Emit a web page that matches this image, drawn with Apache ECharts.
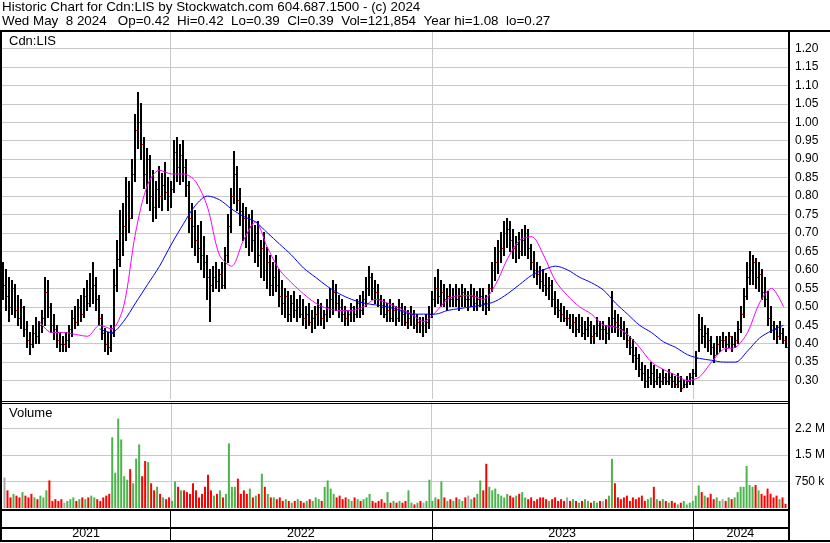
<!DOCTYPE html>
<html><head><meta charset="utf-8">
<script src="https://cdn.jsdelivr.net/npm/echarts@6/dist/echarts.min.js"></script>
<style>html,body{margin:0;padding:0;background:#fff}#c{width:830px;height:543px}</style>
</head><body><div id="c"></div>
<script>
const TITLE_LINE1 = 'Historic Chart for Cdn:LIS by Stockwatch.com 604.687.1500 - (c) 2024';
const TITLE_LINE2 = 'Wed May  8 2024   Op=0.42  Hi=0.42  Lo=0.39  Cl=0.39  Vol=121,854  Year hi=1.08  lo=0.27';
const SYMBOL = 'Cdn:LIS';
const VOLUME_TITLE = 'Volume';
const AXIS_START = '2021-05-11';
const AXIS_END = '2024-05-13';
const YEARS = ['2021', '2022', '2023', '2024'];
const YEAR_STARTS = ['2022-01-01', '2023-01-01', '2024-01-01'];
const PRICE_MIN = 0.25, PRICE_MAX = 1.25, PRICE_STEP = 0.05;
const PRICE_LABEL_RANGE = [0.30, 1.20];
const VOL_MAX = 3, VOL_STEP = 0.75;
const VOL_TICK_LABELS = {'0.75': '750 k', '1.5': '1.5 M', '2.25': '2.2 M'};
const MA_EVERY = 4;

// price samples (each ~3 trading days)
const hi = [
.62,.60,.58,.57,.56,.53,.52,.50,.46,.43,
.45,.47,.46,.49,.58,.57,.51,.48,.45,.43,
.42,.43,.45,.49,.50,.52,.53,.55,.57,.59,
.62,.58,.53,.48,.44,.43,.45,.60,.68,.76,
.78,.85,.84,.90,1.02,1.08,1.05,.96,.93,.91,
.87,.84,.88,.86,.89,.85,.84,.95,.96,.94,
.95,.90,.84,.78,.76,.72,.73,.69,.64,.60,
.61,.62,.60,.62,.66,.75,.82,.92,.88,.82,
.78,.77,.75,.76,.72,.73,.68,.70,.66,.64,
.62,.64,.60,.57,.55,.54,.53,.54,.52,.53,
.52,.50,.51,.49,.50,.52,.51,.49,.52,.55,
.57,.56,.53,.52,.50,.49,.51,.50,.52,.53,
.54,.58,.61,.59,.57,.56,.53,.52,.51,.52,
.51,.50,.52,.51,.50,.49,.50,.49,.48,.47,
.47,.48,.50,.54,.58,.60,.57,.56,.55,.56,
.55,.56,.55,.56,.55,.54,.56,.55,.54,.55,
.55,.53,.56,.62,.66,.68,.70,.73,.74,.73,
.71,.69,.70,.71,.72,.71,.67,.65,.62,.61,
.60,.59,.58,.57,.54,.52,.51,.50,.49,.48,
.48,.47,.48,.47,.46,.47,.46,.45,.47,.46,
.46,.45,.47,.54,.49,.48,.47,.46,.44,.42,
.41,.39,.37,.35,.34,.33,.35,.34,.33,.32,
.33,.32,.33,.32,.31,.32,.31,.30,.31,.32,
.33,.38,.48,.47,.45,.44,.42,.40,.42,.42,
.43,.42,.43,.42,.43,.46,.50,.55,.62,.65,
.64,.63,.62,.60,.58,.54,.50,.46,.45,.46,.44,.42];
const lo = [
.52,.49,.46,.48,.47,.45,.44,.42,.39,.37,
.39,.40,.40,.43,.45,.47,.43,.41,.39,.38,
.38,.38,.39,.42,.44,.45,.46,.47,.49,.50,
.51,.49,.45,.41,.38,.37,.38,.42,.54,.61,
.64,.68,.70,.74,.84,.93,.90,.82,.78,.76,
.73,.74,.77,.76,.79,.76,.77,.81,.84,.83,
.84,.80,.70,.66,.64,.62,.60,.58,.52,.46,
.54,.55,.54,.55,.55,.62,.70,.78,.76,.72,
.68,.66,.64,.65,.62,.61,.58,.57,.55,.53,
.53,.54,.50,.48,.47,.46,.46,.47,.46,.47,
.45,.44,.45,.43,.44,.45,.45,.44,.46,.47,
.48,.49,.47,.46,.45,.45,.46,.46,.47,.47,
.48,.50,.53,.52,.51,.50,.48,.47,.46,.46,
.46,.45,.46,.45,.45,.44,.45,.44,.43,.43,
.42,.43,.44,.47,.50,.51,.50,.50,.49,.50,
.50,.50,.49,.50,.50,.49,.50,.49,.49,.50,
.49,.48,.49,.54,.57,.59,.62,.64,.66,.65,
.63,.62,.63,.64,.64,.63,.60,.58,.56,.55,
.54,.53,.52,.50,.48,.47,.46,.46,.45,.44,
.43,.42,.43,.42,.41,.42,.40,.40,.42,.41,
.41,.40,.41,.43,.43,.42,.42,.41,.39,.37,
.35,.33,.31,.30,.28,.28,.29,.28,.29,.28,
.29,.29,.29,.28,.28,.28,.27,.28,.28,.29,
.29,.31,.38,.40,.39,.38,.37,.35,.37,.38,
.39,.38,.39,.38,.39,.40,.43,.47,.52,.56,
.56,.55,.54,.52,.50,.45,.43,.41,.40,.41,.40,.39];
const cl = [
.56,.53,.50,.55,.49,.47,.50,.44,.41,.40,
.43,.42,.45,.47,.54,.50,.45,.44,.41,.40,
.40,.41,.44,.47,.46,.50,.48,.53,.51,.55,
.56,.52,.47,.43,.40,.39,.43,.56,.63,.70,
.72,.80,.74,.86,.98,1.00,.94,.86,.90,.80,
.77,.82,.80,.83,.81,.80,.82,.92,.88,.91,
.88,.83,.74,.72,.68,.66,.64,.62,.58,.56,
.58,.57,.59,.56,.64,.72,.80,.86,.79,.76,
.74,.70,.72,.68,.70,.64,.66,.60,.62,.56,
.58,.56,.53,.51,.53,.48,.51,.49,.50,.48,
.47,.48,.46,.47,.48,.50,.47,.48,.50,.52,
.54,.51,.50,.48,.47,.48,.50,.48,.51,.49,
.52,.55,.58,.55,.54,.52,.50,.48,.49,.47,
.49,.47,.50,.48,.46,.47,.48,.45,.46,.45,
.45,.46,.48,.52,.55,.53,.54,.52,.53,.52,
.53,.52,.53,.54,.52,.52,.53,.51,.52,.53,
.51,.50,.55,.60,.62,.65,.66,.70,.71,.68,
.66,.67,.65,.68,.70,.66,.62,.60,.59,.57,
.56,.55,.56,.52,.50,.49,.48,.47,.47,.45,
.46,.44,.45,.43,.44,.45,.42,.43,.45,.44,
.44,.43,.45,.47,.46,.45,.44,.43,.41,.39,
.37,.36,.33,.32,.30,.31,.32,.30,.31,.30,
.31,.30,.31,.30,.29,.30,.28,.29,.30,.31,
.32,.36,.44,.42,.43,.41,.39,.37,.40,.41,
.41,.40,.42,.40,.41,.44,.48,.53,.58,.60,
.62,.58,.59,.54,.52,.47,.45,.44,.42,.43,.41,.39];
// volume in millions of shares
const volM = [
.86,.5,.3,.4,.35,.3,.45,.35,.3,.4,
.3,.25,.35,.3,.5,.78,.2,.25,.2,.25,
.15,.2,.25,.3,.2,.25,.3,.25,.3,.35,
.3,.25,.2,.3,.35,.4,2.0,1.0,2.53,1.94,
.9,.8,1.1,.7,1.4,1.8,.9,1.33,1.3,.7,
.5,.6,.4,.3,.25,.3,.2,.75,.6,.5,
.5,.45,.4,.7,.5,.3,.4,.6,.94,.5,
.35,.4,.5,.3,.4,1.83,.6,.6,.83,.4,
.5,.4,.55,.3,.35,.4,.97,.6,.4,.3,
.3,.25,.3,.2,.25,.2,.15,.2,.25,.2,
.15,.2,.25,.2,.3,.25,.2,.6,.78,.55,
.4,.3,.35,.25,.3,.25,.2,.3,.25,.2,
.25,.3,.4,.2,.15,.2,.25,.15,.45,.15,
.2,.15,.2,.15,.2,.5,.15,.1,.15,.2,
.15,.2,.8,.2,.3,.25,.75,.3,.2,.25,
.2,.3,.25,.2,.3,.35,.25,.3,.4,.78,
.5,1.25,.6,.5,.55,.4,.35,.3,.4,.35,
.3,.35,.4,.45,.3,.25,.3,.2,.25,.3,
.3,.25,.2,.25,.3,.2,.25,.2,.3,.2,
.25,.2,.15,.2,.25,.2,.15,.2,.15,.2,
.2,.25,.35,1.39,.7,.3,.25,.3,.35,.2,
.3,.25,.3,.35,.2,.25,.3,.6,.25,.2,
.25,.2,.15,.2,.15,.1,.15,.2,.1,.15,
.2,.35,.64,.45,.35,.3,.4,.25,.3,.2,
.25,.2,.3,.25,.3,.45,.6,.6,1.19,.65,
.6,.65,.5,.4,.35,.55,.4,.3,.35,.25,.3,.12];
// moving averages, one value every MA_EVERY samples
const maFast = [null,null,null,.46,.43,.43,.425,.42,.45,.44,.50,.70,.83,.87,.86,.86,.84,.77,.64,.61,.68,.73,.66,.60,.565,.535,.51,.495,.49,.49,.50,.52,.51,.495,.48,.46,.485,.52,.53,.53,.52,.56,.63,.68,.69,.64,.57,.53,.50,.48,.45,.445,.425,.39,.35,.33,.315,.30,.31,.35,.385,.39,.43,.51,.55,.50];
const maSlow = [null,null,null,null,null,null,null,null,.44,.43,.46,.51,.56,.61,.67,.725,.775,.80,.79,.765,.745,.73,.70,.67,.64,.605,.58,.555,.535,.52,.51,.505,.50,.49,.48,.48,.48,.49,.495,.50,.505,.515,.535,.56,.585,.60,.61,.60,.58,.565,.545,.51,.48,.45,.43,.405,.39,.37,.36,.355,.35,.35,.38,.415,.435,.45];

const FONT = '"Liberation Sans", Arial, sans-serif';
const GREEN = '#4db34d', RED = '#ff0000', GRAY = '#a9a9a9', GRID = '#c8c8c8';

const ms = s => Date.parse(s + 'T00:00:00Z');
const t0 = ms(AXIS_START), t1 = ms(AXIS_END);
const step = (t1 - t0) / hi.length;
const dates = hi.map((_, i) => t0 + (i + 0.5) * step);
const yearStartsMs = YEAR_STARTS.map(ms);
const yearBands = YEARS.map((y, i) => [i === 0 ? t0 : yearStartsMs[i - 1], i === YEARS.length - 1 ? t1 : yearStartsMs[i]]);

const ohlc = dates.map((d, i) => [d, hi[i], lo[i], cl[i]]);
const vols = dates.map((d, i) => [d, volM[i]]);
const fastData = maFast.map((v, k) => [dates[k * MA_EVERY], v]);
const slowData = maSlow.map((v, k) => [dates[k * MA_EVERY], v]);

const chart = echarts.init(document.getElementById('c'), null, {renderer: 'canvas'});

function gridLines(params, api) {
  const cs = params.coordSys;
  const x = Math.round(api.coord([api.value(0), 0])[0]) + 0.5;
  return {type: 'line', shape: {x1: x, y1: cs.y, x2: x, y2: cs.y + cs.height},
          style: {stroke: GRID, lineWidth: 1}};
}

const xBase = {type: 'time', min: t0, max: t1, show: false};

chart.setOption({
  animation: false,
  backgroundColor: '#fff',
  grid: [
    {left: 2, width: 786, top: 30, height: 369},
    {left: 2, width: 786, top: 402, height: 106},
    {left: 2, width: 786, top: 511, height: 29}
  ],
  xAxis: [
    Object.assign({gridIndex: 0}, xBase),
    Object.assign({gridIndex: 1}, xBase),
    Object.assign({gridIndex: 2}, xBase)
  ],
  yAxis: [
    {gridIndex: 0, type: 'value', position: 'right', min: PRICE_MIN, max: PRICE_MAX, interval: PRICE_STEP,
     axisLine: {show: false}, axisTick: {show: false},
     axisLabel: {color: '#000', fontSize: 12, fontFamily: FONT, margin: 7,
       formatter: v => (v < PRICE_LABEL_RANGE[0] - 1e-6 || v > PRICE_LABEL_RANGE[1] + 1e-6) ? '' : v.toFixed(2)},
     splitLine: {show: true, showMinLine: false, showMaxLine: false, lineStyle: {color: GRID, width: 1}}},
    {gridIndex: 1, type: 'value', position: 'right', min: 0, max: VOL_MAX, interval: VOL_STEP,
     axisLine: {show: false}, axisTick: {show: false},
     axisLabel: {color: '#000', fontSize: 12, fontFamily: FONT, margin: 7,
       formatter: v => VOL_TICK_LABELS[String(v)] || ''},
     splitLine: {show: true, showMinLine: false, showMaxLine: false, lineStyle: {color: GRID, width: 1}}},
    {gridIndex: 2, type: 'value', min: 0, max: 1, show: false}
  ],
  series: [
    {type: 'custom', name: 'yearGridPrice', xAxisIndex: 0, yAxisIndex: 0, z: 0, silent: true,
     data: yearStartsMs.map(d => [d]), renderItem: gridLines},
    {type: 'custom', name: 'yearGridVol', xAxisIndex: 1, yAxisIndex: 1, z: 0, silent: true,
     data: yearStartsMs.map(d => [d]), renderItem: gridLines},
    {type: 'custom', name: 'price', xAxisIndex: 0, yAxisIndex: 0, z: 2, clip: true,
     data: ohlc, encode: {x: 0, y: [1, 2, 3]},
     renderItem(params, api) {
       const h = api.coord([api.value(0), api.value(1)]);
       const l = api.coord([api.value(0), api.value(2)]);
       const c = api.coord([api.value(0), api.value(3)]);
       const x = Math.floor(h[0]) - 1;
       const top = Math.floor(h[1]);
       return {type: 'group', children: [
         {type: 'rect', shape: {x: x, y: top, width: 2, height: Math.max(1, Math.ceil(l[1]) - top)}, style: {fill: '#000'}},
         {type: 'rect', shape: {x: x + 2, y: Math.round(c[1]), width: 1, height: 1}, style: {fill: RED}}
       ]};
     }},
    {type: 'line', name: 'maFast', xAxisIndex: 0, yAxisIndex: 0, z: 3, data: fastData, showSymbol: false,
     smooth: 0.3, lineStyle: {color: '#ff00ff', width: 1}, silent: true},
    {type: 'line', name: 'maSlow', xAxisIndex: 0, yAxisIndex: 0, z: 3, data: slowData, showSymbol: false,
     smooth: 0.3, lineStyle: {color: '#0000ff', width: 1}, silent: true},
    {type: 'bar', name: 'volume', xAxisIndex: 1, yAxisIndex: 1, z: 2, data: vols, barWidth: 2,
     itemStyle: {color: p => {
       const i = p.dataIndex, c = cl[i], pc = i > 0 ? cl[i - 1] : cl[i];
       return c > pc ? GREEN : (c < pc ? RED : GRAY);
     }}, silent: true},
    {type: 'custom', name: 'years', xAxisIndex: 2, yAxisIndex: 2, silent: true,
     data: yearBands,
     renderItem(params, api) {
       const cs = params.coordSys;
       const x0 = api.coord([api.value(0), 0])[0];
       const x1 = api.coord([api.value(1), 0])[0];
       const children = [{type: 'text', style: {text: YEARS[params.dataIndex], x: (x0 + x1) / 2, y: cs.y + cs.height - 6,
         align: 'center', verticalAlign: 'middle', font: '12.5px ' + FONT, fill: '#000'}}];
       if (params.dataIndex > 0) {
         const xl = Math.round(x0) + 0.5;
         children.push({type: 'line', shape: {x1: xl, y1: cs.y - 2, x2: xl, y2: cs.y + cs.height}, style: {stroke: '#000', lineWidth: 1}});
       }
       return {type: 'group', children};
     }}
  ],
  graphic: [
    {type: 'text', x: 2, y: 1, z: 10, style: {text: TITLE_LINE1, font: '13.4px ' + FONT, fill: '#000', verticalAlign: 'top'}},
    {type: 'text', x: 2, y: 15, z: 10, style: {text: TITLE_LINE2, font: '13.4px ' + FONT, fill: '#000', verticalAlign: 'top'}},
    {type: 'text', x: 9, y: 35, z: 10, style: {text: SYMBOL, font: '13px ' + FONT, fill: '#000', verticalAlign: 'top'}},
    {type: 'text', x: 9, y: 407, z: 10, style: {text: VOLUME_TITLE, font: '13px ' + FONT, fill: '#000', verticalAlign: 'top'}},
    {type: 'rect', z: 10, shape: {x: 0, y: 30, width: 830, height: 2}, style: {fill: '#000'}},
    {type: 'rect', z: 10, shape: {x: 0, y: 30, width: 2, height: 512}, style: {fill: '#000'}},
    {type: 'rect', z: 10, shape: {x: 788, y: 30, width: 2, height: 512}, style: {fill: '#000'}},
    {type: 'rect', z: 10, shape: {x: 0, y: 401, width: 788, height: 1}, style: {fill: '#000'}},
    {type: 'rect', z: 10, shape: {x: 0, y: 403, width: 788, height: 1}, style: {fill: '#000'}},
    {type: 'rect', z: 10, shape: {x: 0, y: 509, width: 788, height: 2}, style: {fill: '#000'}},
    {type: 'rect', z: 10, shape: {x: 0, y: 527, width: 788, height: 2}, style: {fill: '#000'}},
    {type: 'rect', z: 10, shape: {x: 0, y: 540, width: 830, height: 2}, style: {fill: '#000'}}
  ]
});
</script></body></html>
